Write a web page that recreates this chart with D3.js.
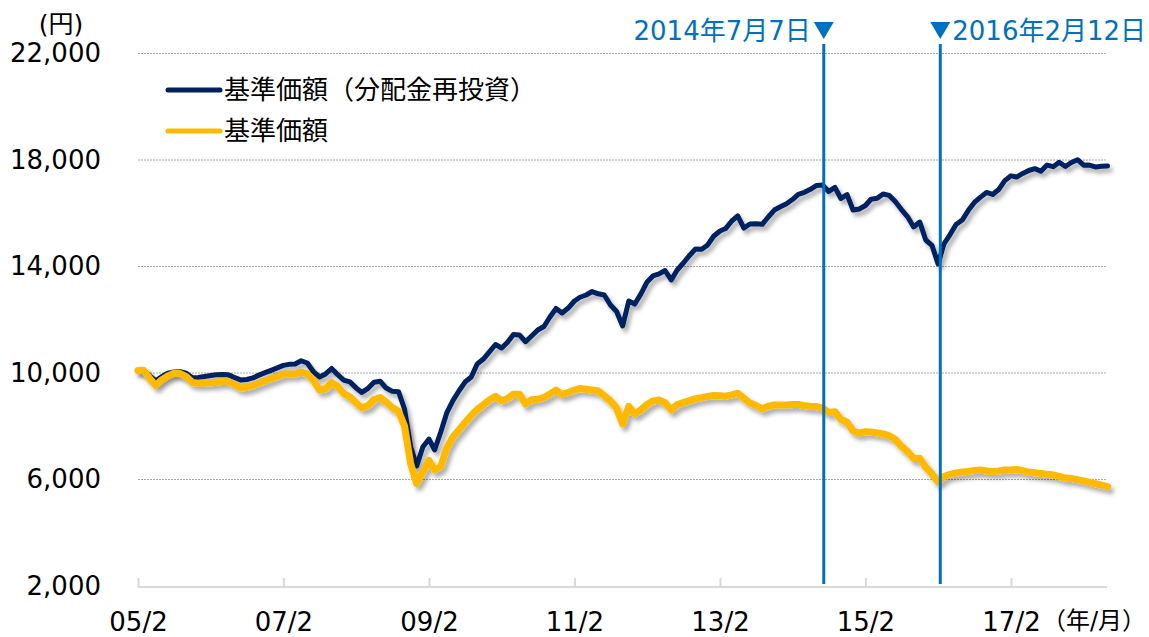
<!DOCTYPE html>
<html>
<head>
<meta charset="utf-8">
<script src="https://cdnjs.cloudflare.com/ajax/libs/d3/7.8.5/d3.min.js"></script>
<style>
  body { margin: 0; background: #fff; }
  text { font-family: "DejaVu Sans", "Noto Sans CJK JP", sans-serif; }
</style>
</head>
<body>
<svg id="chart" width="1149" height="637"></svg>
<script>
// months (month start) of the series
var months = [
  "2005-02","2005-03","2005-04","2005-05","2005-06","2005-07","2005-08","2005-09","2005-10","2005-11","2005-12",
  "2006-01","2006-02","2006-03","2006-04","2006-05","2006-06","2006-07","2006-08","2006-09","2006-10","2006-11","2006-12",
  "2007-01","2007-02","2007-03","2007-04","2007-05","2007-06","2007-07","2007-08","2007-09","2007-10","2007-11","2007-12",
  "2008-01","2008-02","2008-03","2008-04","2008-05","2008-06","2008-07","2008-08","2008-09","2008-10","2008-11","2008-12",
  "2009-01","2009-02","2009-03","2009-04","2009-05","2009-06","2009-07","2009-08","2009-09","2009-10","2009-11","2009-12",
  "2010-01","2010-02","2010-03","2010-04","2010-05","2010-06","2010-07","2010-08","2010-09","2010-10","2010-11","2010-12",
  "2011-01","2011-02","2011-03","2011-04","2011-05","2011-06","2011-07","2011-08","2011-09","2011-10","2011-11","2011-12",
  "2012-01","2012-02","2012-03","2012-04","2012-05","2012-06","2012-07","2012-08","2012-09","2012-10","2012-11","2012-12",
  "2013-01","2013-02","2013-03","2013-04","2013-05","2013-06","2013-07","2013-08","2013-09","2013-10","2013-11","2013-12",
  "2014-01","2014-02","2014-03","2014-04","2014-05","2014-06","2014-07","2014-08","2014-09","2014-10","2014-11","2014-12",
  "2015-01","2015-02","2015-03","2015-04","2015-05","2015-06","2015-07","2015-08","2015-09","2015-10","2015-11","2015-12",
  "2016-01","2016-02","2016-03","2016-04","2016-05","2016-06","2016-07","2016-08","2016-09","2016-10","2016-11","2016-12",
  "2017-01","2017-02","2017-03","2017-04","2017-05","2017-06","2017-07","2017-08","2017-09","2017-10","2017-11","2017-12",
  "2018-01","2018-02","2018-03","2018-04","2018-05","2018-06"
];

// 基準価額（分配金再投資）
var navReinvested = [
  10090,10105,9890,9710,9870,9990,10040,10045,9990,9820,9835,9870,
  9905,9935,9945,9930,9830,9740,9755,9815,9920,10015,10100,10190,
  10285,10325,10340,10460,10375,10055,9850,9965,10170,9935,9730,9665,
  9440,9270,9425,9650,9690,9435,9310,9300,8650,7220,6510,7220,
  7520,7110,7785,8500,8965,9325,9660,9850,10340,10525,10790,11070,
  10940,11145,11445,11430,11175,11390,11615,11745,12105,12425,12255,12440,
  12705,12845,12930,13060,12975,12930,12555,12310,11765,12705,12590,12970,
  13420,13645,13720,13850,13495,13870,14130,14415,14660,14650,14810,15145,
  15335,15425,15710,15900,15445,15595,15605,15585,15860,16120,16245,16360,
  16525,16710,16785,16900,17045,17060,16820,16970,16555,16700,16120,16160,
  16290,16525,16560,16725,16670,16440,16140,15865,15485,15670,14995,14795,
  14095,14845,15200,15580,15745,16100,16405,16605,16780,16705,16890,17225,
  17405,17360,17495,17605,17675,17575,17810,17750,17915,17755,17905,18010,
  17805,17810,17740,17765,17775
];

// 基準価額
var nav = [
  10090,10100,9795,9530,9750,9890,9990,9980,9865,9640,9615,9620,
  9630,9655,9690,9680,9565,9435,9465,9530,9615,9700,9785,9870,
  9950,9960,9965,10030,9965,9740,9360,9410,9640,9495,9225,9105,
  8875,8700,8770,9005,9075,8905,8695,8560,8010,6580,5850,6280,
  6715,6355,6490,7185,7595,7860,8140,8405,8635,8805,8985,9125,
  8955,9030,9205,9205,8835,9000,9010,9080,9215,9355,9200,9270,
  9360,9420,9390,9360,9325,9145,8950,8680,8085,8745,8465,8620,
  8815,8950,8985,8885,8610,8815,8885,8960,9035,9075,9120,9155,
  9150,9130,9180,9240,9055,8875,8780,8655,8750,8800,8800,8800,
  8820,8820,8775,8750,8740,8680,8515,8545,8260,8150,7820,7740,
  7795,7785,7750,7710,7640,7505,7245,7045,6790,6795,6460,6215,
  5905,6115,6195,6245,6285,6305,6335,6355,6320,6300,6320,6355,
  6355,6375,6335,6280,6255,6230,6200,6170,6115,6055,6040,5995,
  5950,5890,5840,5785,5730
];

var yTicks = [2000, 6000, 10000, 14000, 18000, 22000];
var xTicks = ["2005-02","2007-02","2009-02","2011-02","2013-02","2015-02","2017-02"];
var eventDates = ["2014-07-07", "2016-02-12"];
var eventLabels = ["2014年7月7日", "2016年2月12日"];
var seriesNames = ["基準価額（分配金再投資）", "基準価額"];

var svg = d3.select('#chart');
var parseMonth = d3.timeParse('%Y-%m');
var parseDay = d3.timeParse('%Y-%m-%d');

var navyCol = '#002060', goldCol = '#ffb900', blueCol = '#0070c0';

var x = d3.scaleTime()
  .domain([parseMonth('2005-02'), parseMonth('2017-02')])
  .range([138, 1011]);
var y = d3.scaleLinear().domain([2000, 22000]).range([586, 53.5]);

// drop shadow for the series lines
var defs = svg.append('defs');
var f = defs.append('filter').attr('id', 'shadow')
  .attr('x', '-5%').attr('y', '-5%').attr('width', '110%').attr('height', '120%');
f.append('feDropShadow').attr('dx', 3).attr('dy', 4).attr('stdDeviation', 2.2)
  .attr('flood-color', '#000').attr('flood-opacity', 0.32);

// gridlines
svg.append('g').selectAll('line')
  .data(yTicks.filter(function(d){ return d > 2000; }))
  .enter().append('line')
  .attr('x1', 138).attr('x2', 1107)
  .attr('y1', function(d){ return y(d); }).attr('y2', function(d){ return y(d); })
  .attr('stroke', '#a6a6a6').attr('stroke-width', 1).attr('stroke-dasharray', '2,1');

// x axis
var xAxis = d3.axisBottom(x)
  .tickValues(xTicks.map(parseMonth))
  .tickFormat(d3.timeFormat('%y/%-m'))
  .tickSizeInner(-9).tickSizeOuter(0).tickPadding(26);
var gx = svg.append('g').attr('transform', 'translate(0,' + (y(2000) + 1) + ')').call(xAxis);
gx.select('.domain').attr('stroke', '#d9d9d9').attr('stroke-width', 2)
  .attr('d', 'M138,0H1107');
gx.selectAll('.tick line').attr('stroke', '#d9d9d9').attr('stroke-width', 2);
gx.selectAll('.tick text').attr('font-size', 26).attr('fill', '#000')
  .style('font-family', '"DejaVu Sans", "Noto Sans CJK JP", sans-serif');
svg.append('text').attr('x', 1146).attr('y', 629).attr('text-anchor', 'end')
  .attr('font-size', 24).attr('fill', '#000').text('（年/月）');

// y axis labels
var yAxis = d3.axisLeft(y).tickValues(yTicks).tickFormat(d3.format(',')).tickSize(0).tickPadding(0);
var gy = svg.append('g').attr('transform', 'translate(101,0)').call(yAxis);
gy.select('.domain').remove();
gy.selectAll('.tick text').attr('font-size', 26).attr('fill', '#000')
  .style('font-family', '"DejaVu Sans", sans-serif');
svg.append('text').attr('x', 61).attr('y', 33).attr('text-anchor', 'middle')
  .attr('font-size', 25).attr('fill', '#000').text('(円)');

// series
var dates = months.map(parseMonth);
var line = d3.line()
  .x(function(d, i){ return x(dates[i]); })
  .y(function(d){ return y(d); });

svg.append('path').datum(navReinvested)
  .attr('d', line).attr('fill', 'none').attr('stroke', navyCol)
  .attr('stroke-width', 5).attr('stroke-linejoin', 'round').attr('stroke-linecap', 'round')
  .attr('filter', 'url(#shadow)');
svg.append('path').datum(nav)
  .attr('d', line).attr('fill', 'none').attr('stroke', goldCol)
  .attr('stroke-width', 7).attr('stroke-linejoin', 'round').attr('stroke-linecap', 'round')
  .attr('filter', 'url(#shadow)');

// event lines
eventDates.forEach(function(ds, i){
  var ex = x(parseDay(ds));
  svg.append('line').attr('x1', ex).attr('x2', ex).attr('y1', 44).attr('y2', 584)
    .attr('stroke', blueCol).attr('stroke-width', 3);
  svg.append('path')
    .attr('d', 'M' + (ex - 10) + ',22L' + (ex + 10) + ',22L' + ex + ',39Z')
    .attr('fill', blueCol);
  svg.append('text')
    .attr('x', i === 0 ? ex - 13 : ex + 12).attr('y', 40)
    .attr('text-anchor', i === 0 ? 'end' : 'start')
    .attr('font-size', 26).attr('fill', blueCol)
    .text(eventLabels[i]);
});

// legend
var legend = svg.append('g');
[navyCol, goldCol].forEach(function(c, i){
  var ly = 90 + i * 41;
  legend.append('line').attr('x1', 168).attr('x2', 220).attr('y1', ly).attr('y2', ly)
    .attr('stroke', c).attr('stroke-width', 5).attr('stroke-linecap', 'round');
  legend.append('text').attr('x', 224).attr('y', ly + 9)
    .attr('font-size', 26).attr('fill', '#000').text(seriesNames[i]);
});
</script>
</body>
</html>
